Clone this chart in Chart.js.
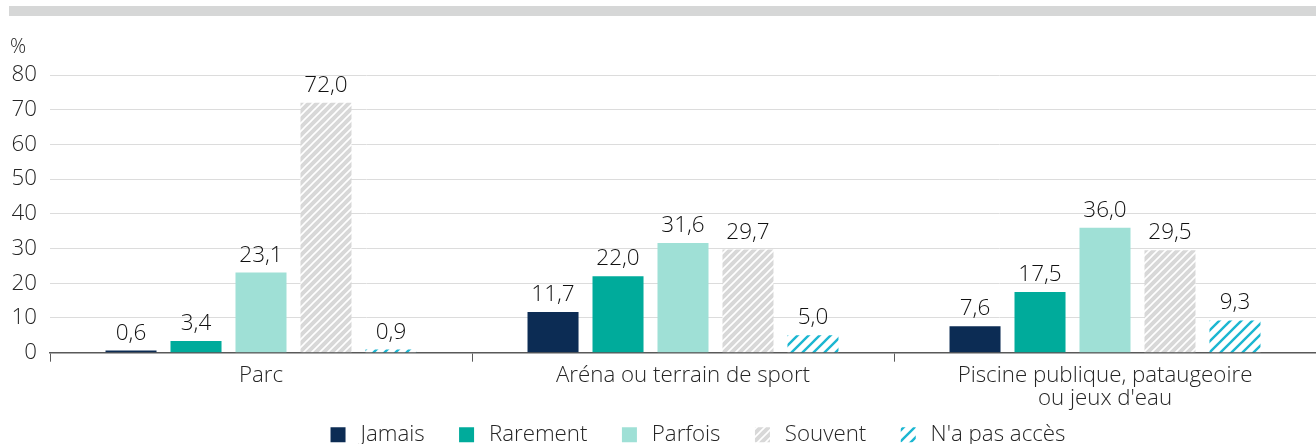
<!DOCTYPE html>
<html>
<head>
<meta charset="utf-8">
<script src="https://cdn.jsdelivr.net/npm/chart.js@4/dist/chart.umd.min.js"></script>
<style>
  html, body { margin: 0; padding: 0; background: #fff; overflow: hidden; }
  .topbar { position: absolute; left: 9px; right: 0; top: 6px; height: 10px; background: #d6d7d7; }
  .wrap { position: absolute; left: 0; top: 0; width: 1316px; height: 456px; }
</style>
</head>
<body>
<div class="topbar"></div>
<div class="wrap"><canvas id="chart" width="1316" height="456"></canvas></div>
<script>
const categories = ['Parc', 'Aréna ou terrain de sport', ['Piscine publique, pataugeoire', "ou jeux d'eau"]];
const seriesNames = ['Jamais', 'Rarement', 'Parfois', 'Souvent', "N'a pas accès"];
const jamais = [0.6, 11.7, 7.6];
const rarement = [3.4, 22.0, 17.5];
const parfois = [23.1, 31.6, 36.0];
const souvent = [72.0, 29.7, 29.5];
const pasAcces = [0.9, 5.0, 9.3];
const yTicks = [0, 10, 20, 30, 40, 50, 60, 70, 80];

const FONT = "'Open Sans', 'Noto Sans', sans-serif";
const TXT = '#262626';
const SIZE = 22.3;

// motif hachuré
function hatch(bg, fg, size, width) {
    const c = document.createElement('canvas');
    c.width = size; c.height = size;
    const g = c.getContext('2d');
    if (bg) { g.fillStyle = bg; g.fillRect(0, 0, size, size); }
    g.strokeStyle = fg;
    g.lineWidth = width;
    g.beginPath();
    g.moveTo(-1, size + 1); g.lineTo(size + 1, -1);
    g.moveTo(-size / 2, size / 2); g.lineTo(size / 2, -size / 2);
    g.moveTo(size / 2, size * 1.5); g.lineTo(size * 1.5, size / 2);
    g.stroke();
    return g.createPattern(c, 'repeat');
}

const souventFill = hatch('#d8d8d8', '#ffffff', 8, 1.6);
const pasAccesFill = hatch('#ffffff', '#1bb6d1', 11, 2.4);

const colors = ['#0c2c54', '#00ab9b', '#9fe0d6', souventFill, pasAccesFill];
const values = [jamais, rarement, parfois, souvent, pasAcces];

const valueLabels = {
    id: 'valueLabels',
    afterLayout(chart) {
        // légende un peu décalée vers la droite
        chart.legend.left += 40;
        chart.legend.right += 40;
    },
    afterDatasetsDraw(chart) {
        const ctx = chart.ctx;
        ctx.save();
        ctx.font = '300 22.5px ' + FONT;
        ctx.fillStyle = '#111';
        ctx.textAlign = 'center';
        ctx.textBaseline = 'alphabetic';
        chart.data.datasets.forEach((ds, i) => {
            chart.getDatasetMeta(i).data.forEach((bar, j) => {
                const txt = ds.data[j].toFixed(1).replace('.', ',');
                ctx.fillText(txt, bar.x, bar.y - 11);
            });
        });
        // symbole %
        ctx.textAlign = 'left';
        ctx.fillStyle = TXT;
        ctx.font = '300 20px ' + FONT;
        ctx.fillText('%', 10, 53);
        ctx.restore();
    }
};

const chart = new Chart(document.getElementById('chart'), {
    type: 'bar',
    data: {
        labels: categories,
        datasets: seriesNames.map((name, i) => ({
            label: name,
            data: values[i],
            backgroundColor: colors[i],
            borderWidth: 0,
            barPercentage: 0.785,
            categoryPercentage: 0.77,
        })),
    },
    options: {
        responsive: false,
        animation: false,
        devicePixelRatio: 1,
        layout: { padding: { top: 75, left: 0, right: 0, bottom: 0 } },
        plugins: {
            legend: {
                position: 'bottom',
                labels: {
                    font: { family: FONT, size: SIZE, weight: 300 },
                    color: TXT,
                    boxWidth: 15,
                    boxHeight: 15,
                    padding: 1,
                    // espacement entre les entrées
                    generateLabels: c => {
                        const items = Chart.defaults.plugins.legend.labels.generateLabels(c);
                        items.forEach((it, k) => {
                            it.text = '\u2009' + it.text + (k < items.length - 1 ? '\u2003\u2002' : '');
                        });
                        return items;
                    },
                },
            },
            tooltip: { enabled: false },
        },
        scales: {
            x: {
                afterFit: axis => { axis.height = 70; },
                grid: { drawOnChartArea: false, drawTicks: true, tickLength: 9, color: '#595959' },
                border: { color: '#595959', width: 1.5 },
                ticks: { font: { family: FONT, size: SIZE, weight: 300, lineHeight: 1.0 }, color: TXT, padding: 3, maxRotation: 0 },
            },
            y: {
                min: 0,
                max: 80,
                afterBuildTicks: axis => { axis.ticks = yTicks.map(v => ({value: v})); },
                afterFit: axis => { axis.width = 50; },
                grid: { color: '#dcdcdc', drawTicks: false },
                border: { display: false },
                ticks: { font: { family: FONT, size: SIZE, weight: 300 }, color: TXT, padding: 13 },
            },
        },
    },
    plugins: [valueLabels],
});
</script>
</body>
</html>
